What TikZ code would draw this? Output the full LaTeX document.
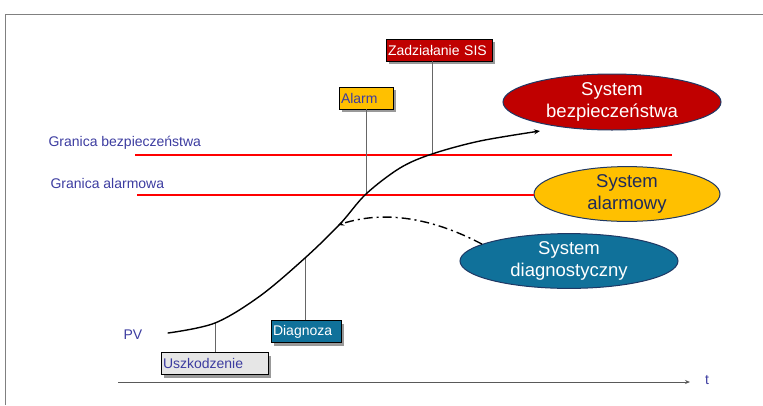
\documentclass[tikz,border=0pt]{standalone}
\usepackage{fontspec}
\setmainfont{Liberation Sans}
\usetikzlibrary{shapes.geometric, shadows, arrows.meta}

\definecolor{sisred}{HTML}{C00000}
\definecolor{alarmyellow}{HTML}{FFC000}
\definecolor{diagblue}{HTML}{10719A}
\definecolor{labelblue}{HTML}{3C3CA0}
\definecolor{rimblue}{HTML}{1F3864}
\definecolor{navytext}{HTML}{1F2A5A}
\definecolor{faultgray}{HTML}{E6E6E6}

\begin{document}
\begin{tikzpicture}[x = 1pt, y = -1pt,
    every node/.style = {font = \fontsize{14}{16}\selectfont},
    tag/.style = {shape = rectangle, draw = black, line width = 0.8pt, inner xsep = 2pt, inner ysep = 0pt,
        minimum height = 22pt, align = left,
        drop shadow = {shadow xshift = 3pt, shadow yshift = -3pt, fill = black!40, opacity = 1}},
    system/.style = {shape = ellipse, draw = rimblue, line width = 1pt, align = center, inner sep = 0pt,
        font = \fontsize{18.5}{22}\selectfont},
    limit/.style = {red, line width = 1.6pt},
    marker/.style = {draw = black!60, line width = 0.8pt},
    bluetext/.style = {text = labelblue, anchor = west},
    pv/.style = {black, line width = 1.4pt, line cap = round},
    diagflow/.style = {black, line width = 1.4pt, dash pattern = on 9pt off 4pt on 2pt off 4pt}]
    \useasboundingbox (0,0) rectangle (763,405);
    % frame
    \draw[black!50, line width = 0.8pt] (5,405) -- (5,14) -- (763,14);

    % systems
    \node[system, fill = sisred, text = white, minimum width = 218pt, minimum height = 56pt]
        (safesys) at (612,102) {System\\bezpieczeństwa};
    \node[system, fill = alarmyellow, text = navytext, minimum width = 186pt, minimum height = 53pt]
        (alarmsys) at (627,194) {System\\alarmowy};
    \node[system, fill = diagblue, text = white, minimum width = 218pt, minimum height = 54pt]
        (diagsys) at (569,261) {System\\diagnostyczny};

    % limits
    \node[bluetext] (safelabel) at (45,143) {Granica bezpieczeństwa};
    \node[bluetext] (alarmlabel) at (47,183) {Granica alarmowa};
    \coordinate (safe0) at (135,155);
    \coordinate (safe1) at (672,155);
    \coordinate (alarm0) at (137,195);
    \draw[limit] (safe0) -- (safe1);
    \draw[limit, line width = 1.2pt] (alarm0) -- (alarm0 -| alarmsys.west);

    % events
    \node[tag, fill = sisred, text = white, text width = 102pt] (sis) at (439,50) {Zadziałanie SIS};
    \node[tag, fill = alarmyellow, text = labelblue, text width = 50pt] (alarm) at (366,98) {Alarm};
    \node[tag, fill = faultgray, text = labelblue, text width = 103pt] (fault) at (214.5,363.5) {Uszkodzenie};
    \node[tag, fill = diagblue, text = white, text width = 66pt] (diag) at (306,331.5) {Diagnoza};

    % process value
    \coordinate (pv0) at (168,333);
    \coordinate (onfault) at (215,323);
    \coordinate (ondiag) at (305,258);
    \coordinate (onalarm) at (366,194);
    \coordinate (onsis) at (432,154);
    \coordinate (pvend) at (540,131);
    \coordinate (ondiagflow) at (338,225);
    \node[bluetext] (pvlabel) at (120,335) {PV};

    \draw[marker] (onsis |- sis.south) -- (onsis);
    \draw[marker] (onalarm |- alarm.south) -- (onalarm);
    \draw[marker] (onfault |- fault.north) -- (onfault);
    \draw[marker] (ondiag |- diag.north) -- (ondiag);

    \draw[pv, -{Stealth[length = 6pt, width = 5pt]}] plot[smooth, tension = 0.55] coordinates
        {(pv0) (onfault) (260,296) (ondiag) (340,224) (onalarm) (400,168) (onsis) (480,141) (pvend)};
    \draw[diagflow, -{Stealth[length = 6pt, width = 5pt]}] (diagsys.169)
        .. controls (440,222) and (390,208) .. (ondiagflow);

    % time axis
    \coordinate (t0) at (118,382);
    \coordinate (t1) at (690,382);
    \node[text = labelblue] (tlabel) at (707,380) {t};
    \draw[black!65, line width = 1pt, -{Stealth[length = 5pt, width = 4pt]}] (t0) -- (t1);
\end{tikzpicture}
\end{document}
